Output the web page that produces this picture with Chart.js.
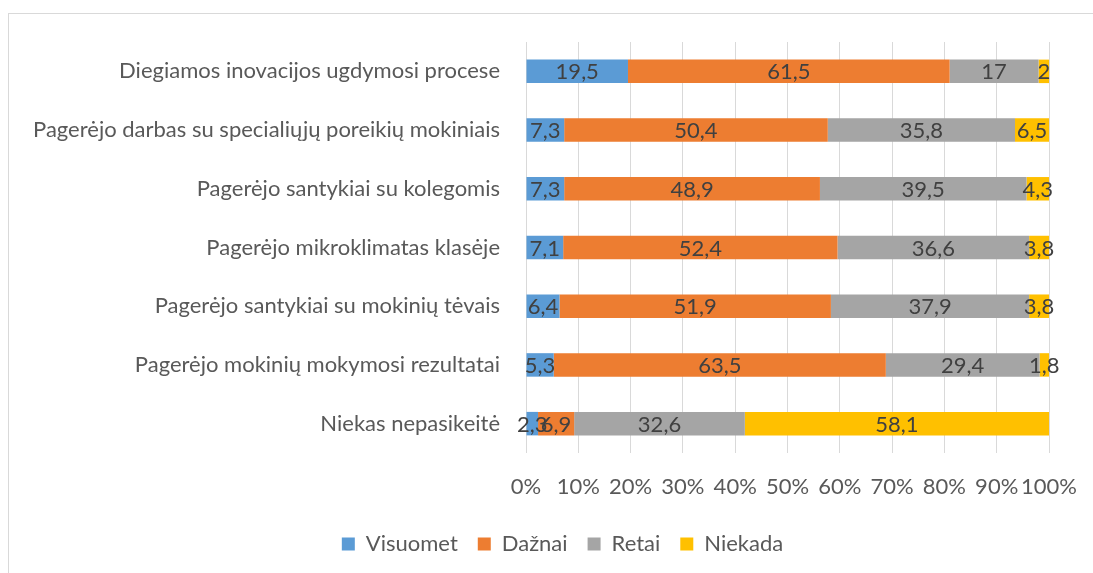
<!DOCTYPE html>
<html>
<head>
<meta charset="utf-8">
<script src="https://cdn.jsdelivr.net/npm/chart.js@4"></script>
<style>
  html, body { margin: 0; padding: 0; background: #fff; overflow: hidden; }
  #frame { position: absolute; left: 8px; top: 13px; width: 1200px; height: 700px; border: 1px solid #d9d9d9; }
  #wrap { position: absolute; left: 0; top: 0; width: 1093px; height: 573px; }
</style>
</head>
<body>
<div id="frame"></div>
<div id="wrap"><canvas id="chart" width="1093" height="573"></canvas></div>
<script>
// categories, top to bottom
const categories = [
  "Diegiamos inovacijos ugdymosi procese",
  "Pagerėjo darbas su specialiųjų poreikių mokiniais",
  "Pagerėjo santykiai su kolegomis",
  "Pagerėjo mikroklimatas klasėje",
  "Pagerėjo santykiai su mokinių tėvais",
  "Pagerėjo mokinių mokymosi rezultatai",
  "Niekas nepasikeitė"
];

const visuomet = [19.5, 7.3, 7.3, 7.1, 6.4, 5.3, 2.3];
const daznai   = [61.5, 50.4, 48.9, 52.4, 51.9, 63.5, 6.9];
const retai    = [17, 35.8, 39.5, 36.6, 37.9, 29.4, 32.6];
const niekada  = [2, 6.5, 4.3, 3.8, 3.8, 1.8, 58.1];

const seriesNames = ["Visuomet", "Dažnai", "Retai", "Niekada"];
const seriesColors = ["#5B9BD5", "#ED7D31", "#A5A5A5", "#FFC000"];
const xTicks = [0, 10, 20, 30, 40, 50, 60, 70, 80, 90, 100];

const raw = [visuomet, daznai, retai, niekada];
// 100% stacked: share of each row total
const totals = categories.map((c, i) => raw.reduce((s, arr) => s + arr[i], 0));

const FONT = "Lato";
const SIZE = 22;

// draws the value in the middle of each segment
const valueLabels = {
  id: "valueLabels",
  afterDatasetsDraw(chart) {
    const ctx = chart.ctx;
    ctx.save();
    ctx.font = SIZE + "px " + FONT;
    ctx.fillStyle = "#404040";
    ctx.textAlign = "center";
    ctx.textBaseline = "middle";
    chart.data.datasets.forEach((ds, di) => {
      chart.getDatasetMeta(di).data.forEach((el, i) => {
        const txt = String(ds.raw[i]).replace(".", ",");
        ctx.fillText(txt, (el.x + el.base) / 2, el.y + 1);
      });
    });
    ctx.restore();
  }
};

// the original legend is centred on a wider frame, so nudge it right
const legendShift = {
  id: "legendShift",
  afterLayout(chart) {
    chart.legend.left += 38;
    chart.legend.right += 38;
  }
};

new Chart(document.getElementById("chart"), {
  type: "bar",
  data: {
    labels: categories,
    datasets: raw.map((arr, k) => ({
      label: seriesNames[k],
      raw: arr,
      data: arr.map((v, i) => v / totals[i] * 100),
      backgroundColor: seriesColors[k],
      borderWidth: 0,
      barPercentage: 0.4,
      categoryPercentage: 1
    }))
  },
  options: {
    indexAxis: "y",
    responsive: false,
    animation: false,
    layout: { padding: { top: 42, right: 44, bottom: 8, left: 0 } },
    plugins: {
      legend: {
        position: "bottom",
        labels: {
          color: "#595959",
          font: { family: FONT, size: SIZE },
          boxWidth: 13,
          boxHeight: 13,
          padding: 20
        }
      },
      tooltip: { enabled: false }
    },
    scales: {
      x: {
        stacked: true,
        min: 0,
        max: 100,
        afterBuildTicks: s => { s.ticks = xTicks.map(v => ({ value: v })); },
        afterFit: s => { s.height = 60; s.paddingLeft = 0; s.paddingRight = 0; },
        ticks: {
          color: "#595959",
          font: { family: FONT, size: SIZE },
          padding: 21,
          maxRotation: 0,
          minRotation: 0,
          autoSkip: false,
          callback: v => v + "%"
        },
        grid: { color: "#d9d9d9", drawTicks: false },
        border: { display: false }
      },
      y: {
        stacked: true,
        afterFit: s => { s.width = 526; },
        ticks: {
          color: "#595959",
          font: { family: FONT, size: SIZE },
          padding: 26
        },
        grid: { display: false, drawTicks: false },
        border: { display: false }
      }
    }
  },
  plugins: [valueLabels, legendShift]
});
</script>
</body>
</html>
